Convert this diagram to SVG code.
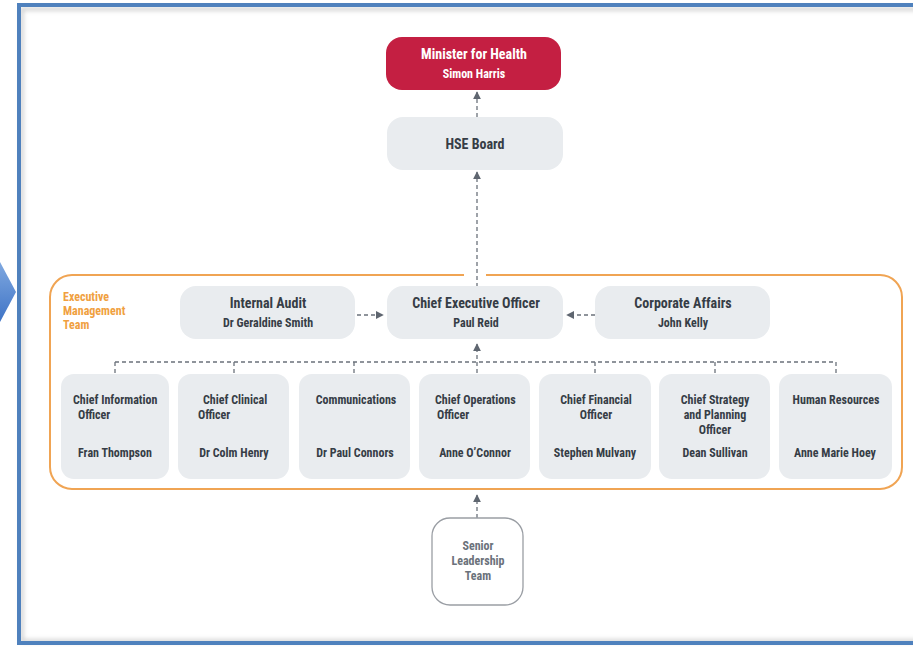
<svg xmlns="http://www.w3.org/2000/svg" width="913" height="647" viewBox="0 0 913 647">
<defs>
<marker id="ah" viewBox="0 0 10 10" refX="9" refY="5" markerWidth="8" markerHeight="8" markerUnits="userSpaceOnUse" orient="auto"><path d="M0,0 L10,5 L0,10 z" fill="#5f6670"/></marker>
<linearGradient id="chev" x1="0" y1="0" x2="0" y2="1"><stop offset="0" stop-color="#7fa8e0"/><stop offset="1" stop-color="#3f74c6"/></linearGradient>
<filter id="sh" x="-5%" y="-5%" width="110%" height="110%"><feGaussianBlur stdDeviation="2"/></filter>
</defs>
<style>
.box{fill:#e9ecef}
.t{font-family:"Roboto Condensed","Liberation Sans Narrow","DejaVu Sans Condensed",Roboto,sans-serif;font-weight:bold;fill:#363d46}
.big{font-size:14px}
.sm{font-size:12px}
.c{text-anchor:middle}
.dash{fill:none;stroke:#6b727b;stroke-width:1.3;stroke-dasharray:4 3}
</style>
<rect width="913" height="647" fill="#ffffff"/>
<rect x="22" y="9" width="900" height="632" fill="none" stroke="#c8c8c8" stroke-width="3" filter="url(#sh)"/>
<rect x="19" y="5" width="910" height="638" fill="none" stroke="#4f81bd" stroke-width="4"/>
<polygon points="0,262 16,292 0,322" fill="url(#chev)"/>

<g id="emt">
<rect x="50" y="275" width="852" height="214" rx="22" fill="none" stroke="#f0a453" stroke-width="2"/>
<rect x="464" y="272" width="22" height="6" fill="#ffffff"/>
<text class="t" font-size="12" style="fill:#f0a040"><tspan x="63" y="301">Executive</tspan><tspan x="63" y="315">Management</tspan><tspan x="63" y="329">Team</tspan></text>
</g>

<g id="connectors">
<line class="dash" x1="477" y1="117" x2="477" y2="92" marker-end="url(#ah)"/>
<line class="dash" x1="477" y1="287" x2="477" y2="172" marker-end="url(#ah)"/>
<line class="dash" x1="357" y1="315" x2="383" y2="315" marker-end="url(#ah)"/>
<line class="dash" x1="595" y1="315" x2="567" y2="315" marker-end="url(#ah)"/>
<line class="dash" x1="477" y1="373" x2="477" y2="344" marker-end="url(#ah)"/>
<line class="dash" x1="115" y1="362" x2="836" y2="362"/>
<path class="dash" d="M115,362 V373 M234,362 V373 M354,362 V373 M595,362 V373 M715,362 V373 M836,362 V373"/>
<line class="dash" x1="477" y1="518" x2="477" y2="495" marker-end="url(#ah)"/>
</g>

<g id="minister">
<rect x="386" y="37" width="175" height="53" rx="16" fill="#c41f42"/>
<text class="t big c" x="474" y="59" style="fill:#ffffff">Minister for Health</text>
<text class="t sm c" x="474" y="78" style="fill:#ffffff">Simon Harris</text>
</g>
<g id="hse-board">
<rect class="box" x="387" y="117" width="176" height="53" rx="16"/>
<text class="t big c" x="475" y="149">HSE Board</text>
</g>
<g id="internal-audit">
<rect class="box" x="180" y="286" width="175" height="53" rx="16"/>
<text class="t big c" x="268" y="308">Internal Audit</text>
<text class="t sm c" x="268" y="327">Dr Geraldine Smith</text>
</g>
<g id="ceo">
<rect class="box" x="387" y="286" width="176" height="53" rx="16"/>
<text class="t big c" x="476" y="308">Chief Executive Officer</text>
<text class="t sm c" x="476" y="327">Paul Reid</text>
</g>
<g id="corporate-affairs">
<rect class="box" x="595" y="286" width="175" height="53" rx="16"/>
<text class="t big c" x="683" y="308">Corporate Affairs</text>
<text class="t sm c" x="683" y="327">John Kelly</text>
</g>

<g id="cio">
<rect class="box" x="61" y="374" width="108" height="105" rx="13"/>
<text class="t sm"><tspan x="73" y="404">Chief Information</tspan><tspan x="78" y="419">Officer</tspan></text>
<text class="t sm c" x="115" y="457">Fran Thompson</text>
</g>
<g id="cco">
<rect class="box" x="178" y="374" width="111" height="105" rx="13"/>
<text class="t sm"><tspan x="203" y="404">Chief Clinical</tspan><tspan x="198" y="419">Officer</tspan></text>
<text class="t sm c" x="234" y="457">Dr Colm Henry</text>
</g>
<g id="communications">
<rect class="box" x="299" y="374" width="111" height="105" rx="13"/>
<text class="t sm c" x="356" y="404">Communications</text>
<text class="t sm c" x="355" y="457">Dr Paul Connors</text>
</g>
<g id="coo">
<rect class="box" x="419" y="374" width="111" height="105" rx="13"/>
<text class="t sm"><tspan x="435" y="404">Chief Operations</tspan><tspan x="437" y="419">Officer</tspan></text>
<text class="t sm c" x="475" y="457">Anne O’Connor</text>
</g>
<g id="cfo">
<rect class="box" x="539" y="374" width="112" height="105" rx="13"/>
<text class="t sm c"><tspan x="596" y="404">Chief Financial</tspan><tspan x="596" y="419">Officer</tspan></text>
<text class="t sm c" x="595" y="457">Stephen Mulvany</text>
</g>
<g id="cspo">
<rect class="box" x="659" y="374" width="111" height="105" rx="13"/>
<text class="t sm c"><tspan x="715" y="404">Chief Strategy</tspan><tspan x="715" y="419">and Planning</tspan><tspan x="715" y="434">Officer</tspan></text>
<text class="t sm c" x="715" y="457">Dean Sullivan</text>
</g>
<g id="hr">
<rect class="box" x="779" y="374" width="113" height="105" rx="13"/>
<text class="t sm c" x="836" y="404">Human Resources</text>
<text class="t sm c" x="835" y="457">Anne Marie Hoey</text>
</g>

<g id="slt">
<rect x="432" y="518" width="91" height="87" rx="18" fill="#ffffff" stroke="#9a9ea4" stroke-width="1.3"/>
<text class="t sm c" style="fill:#6b727b"><tspan x="478" y="550">Senior</tspan><tspan x="478" y="565">Leadership</tspan><tspan x="478" y="580">Team</tspan></text>
</g>
</svg>
